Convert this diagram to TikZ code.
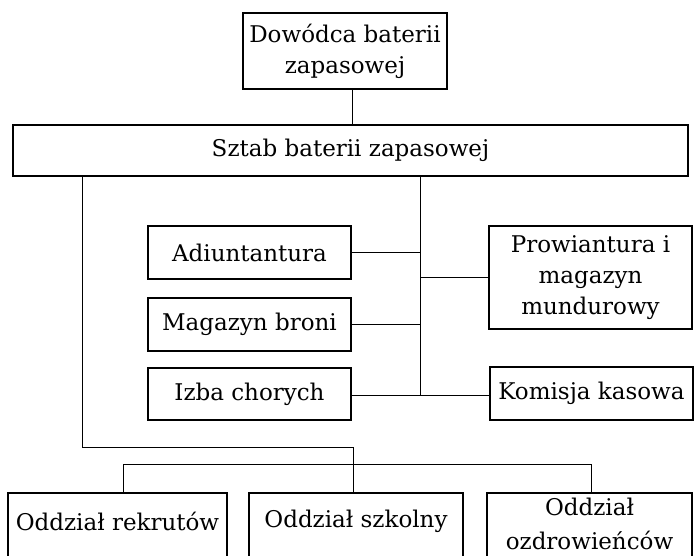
\documentclass[tikz,border=0pt]{standalone}
\usepackage{fontspec}
\setmainfont{DejaVu Serif}
\newcommand{\upbox}[1]{\raisebox{5pt}[\height][\depth]{#1}}
\begin{document}
\begin{tikzpicture}[x=1pt,y=-1pt,
  box/.style={draw=black,line width=2.8pt,align=center,inner sep=0pt,
    font=\fontsize{23}{31}\selectfont},
  conn/.style={draw=black,line width=1pt}]
\useasboundingbox (0,0) rectangle (696,555);
\fill[white] (0,0) rectangle (696,555);
\node[box,minimum width=204pt,minimum height=76pt] (dow) at (345,51) {Dowódca baterii\\zapasowej};
\node[box,minimum width=675pt,minimum height=51pt] (sztab) at (350.5,150.5) {Sztab baterii zapasowej};
\node[box,minimum width=203pt,minimum height=53pt] (adj) at (249.5,252.5) {Adiuntantura};
\node[box,minimum width=203pt,minimum height=53pt] (mag) at (249.5,324.5) {Magazyn broni};
\node[box,minimum width=203pt,minimum height=52pt] (izba) at (249.5,394) {Izba chorych};
\node[box,minimum width=203pt,minimum height=103pt] (prow) at (590.5,277.5) {Prowiantura i\\magazyn\\mundurowy};
\node[box,minimum width=203pt,minimum height=53pt] (kom) at (591.5,393.5) {Komisja kasowa};
\node[box,minimum width=219pt,minimum height=67pt] (rek) at (117.5,526.5) {\upbox{Oddział rekrutów}};
\node[box,minimum width=214pt,minimum height=67pt] (szk) at (356,526.5) {\upbox{Oddział szkolny}};
\node[box,minimum width=205pt,minimum height=67pt] (ozd) at (589.5,526.5) {\begin{tabular}{@{}c@{}}Oddział\\[3pt]ozdrowieńców\end{tabular}};
% connectors
\coordinate (j1) at (420,395);
\coordinate (l1) at (82,447);
\coordinate (b1) at (123,464);
\coordinate (b2) at (591,464);
\draw[conn] (dow.south -| 352,0) -- (sztab.north -| 352,0);
\draw[conn] (sztab.south -| j1) -- (j1);
\draw[conn] (adj.east) -- (adj.east -| j1);
\draw[conn] (mag.east) -- (mag.east -| j1);
\draw[conn] (prow.west) -- (prow.west -| j1);
\draw[conn] (izba.east |- j1) -- (kom.west |- j1);
\draw[conn] (sztab.south -| l1) -- (l1) -- (l1 -| 353,0) -- (szk.north -| 353,0);
\draw[conn] (b1) -- (b2);
\draw[conn] (b1) -- (rek.north -| b1);
\draw[conn] (b2) -- (ozd.north -| b2);
\end{tikzpicture}
\end{document}
